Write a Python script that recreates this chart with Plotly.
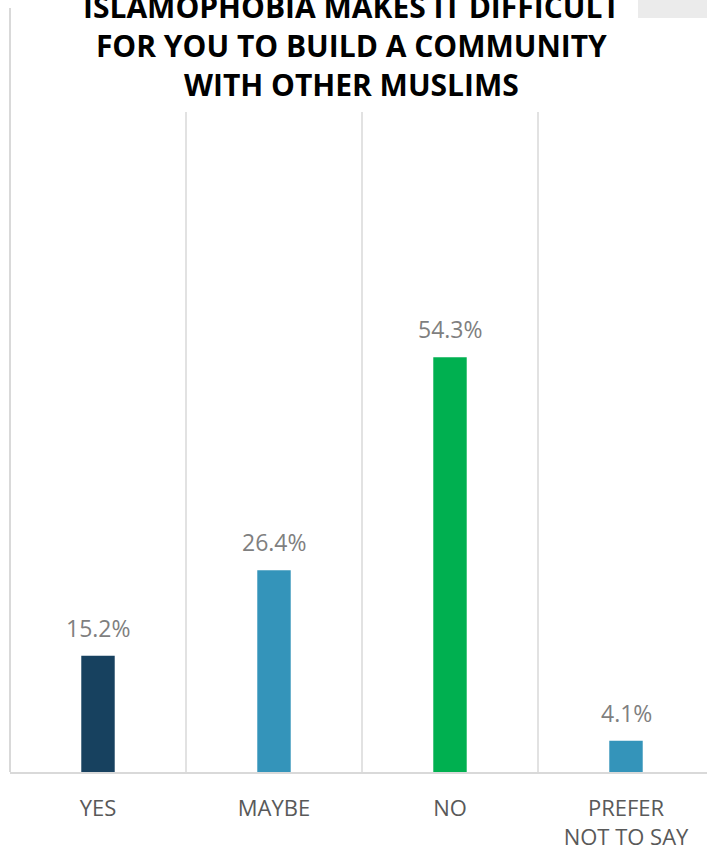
import plotly.graph_objects as go

categories = ["YES", "MAYBE", "NO", "PREFER<br>NOT TO SAY"]
values = [15.2, 26.4, 54.3, 4.1]
colors = ["#17415F", "#3494BA", "#00B050", "#3494BA"]
labels = [f"{v:.1f}%" for v in values]
title_text = "ISLAMOPHOBIA MAKES IT DIFFICULT<br>FOR YOU TO BUILD A COMMUNITY<br>WITH OTHER MUSLIMS"

W, H = 707, 857
L = 10
T = 112
BASE = 772
B = H - BASE
PH = BASE - T
plot_w = W - L
cat_px = 176.0
x_max = -0.5 + plot_w / cat_px
y_max = PH / 7.64


def py(px):
    """page pixel y -> paper y"""
    return (BASE - px) / PH


def px_(px):
    return (px - L) / plot_w


fig = go.Figure()
fig.add_trace(go.Bar(
    x=list(range(len(categories))), y=values,
    marker=dict(color=colors, line=dict(width=0)),
    width=0.19, hoverinfo="skip",
))

for i, (v, t) in enumerate(zip(values, labels)):
    fig.add_annotation(x=i, y=v, text=t, showarrow=False, yanchor="bottom",
                       yshift=10, font=dict(family="Open Sans, sans-serif", size=23, color="#7F7F7F"))

# category separators
for b in [0.5, 1.5, 2.5]:
    fig.add_shape(type="line", xref="x", yref="paper", x0=b, x1=b, y0=0, y1=1,
                  line=dict(color="#D9D9D9", width=1.5), layer="below")

# chart frame left edge
fig.add_shape(type="line", xref="paper", yref="paper", x0=0, x1=0, y0=0,
              y1=py(8), line=dict(color="#D9D9D9", width=2))
# grey box top-right
fig.add_shape(type="rect", xref="paper", yref="paper",
              x0=px_(638), x1=1.05, y0=py(18), y1=py(-5),
              line=dict(width=0), fillcolor="#EBEBEB")

fig.add_annotation(xref="paper", yref="paper", x=px_(351), y=py(46),
                   text=title_text, showarrow=False, xanchor="center", yanchor="middle",
                   font=dict(family="Open Sans, sans-serif", size=30,
                             color="#000000", weight="bold"))

fig.update_layout(
    width=W, height=H,
    margin=dict(l=L, r=0, t=T, b=B, pad=0),
    paper_bgcolor="white", plot_bgcolor="white",
    showlegend=False,
    xaxis=dict(range=[-0.5, x_max], tickmode="array", tickvals=list(range(len(categories))),
               ticktext=categories, showgrid=False, zeroline=False,
               showline=True, linecolor="#D9D9D9", linewidth=2,
               ticks="", ticklabelstandoff=16,
               tickfont=dict(family="Open Sans, sans-serif", size=22, color="#595959")),
    yaxis=dict(range=[0, y_max], visible=False, showgrid=False, zeroline=False),
)

fig.write_html("out.html", config={"displayModeBar": False},
               post_script="document.body.style.margin='0';document.body.style.overflow='hidden';")
